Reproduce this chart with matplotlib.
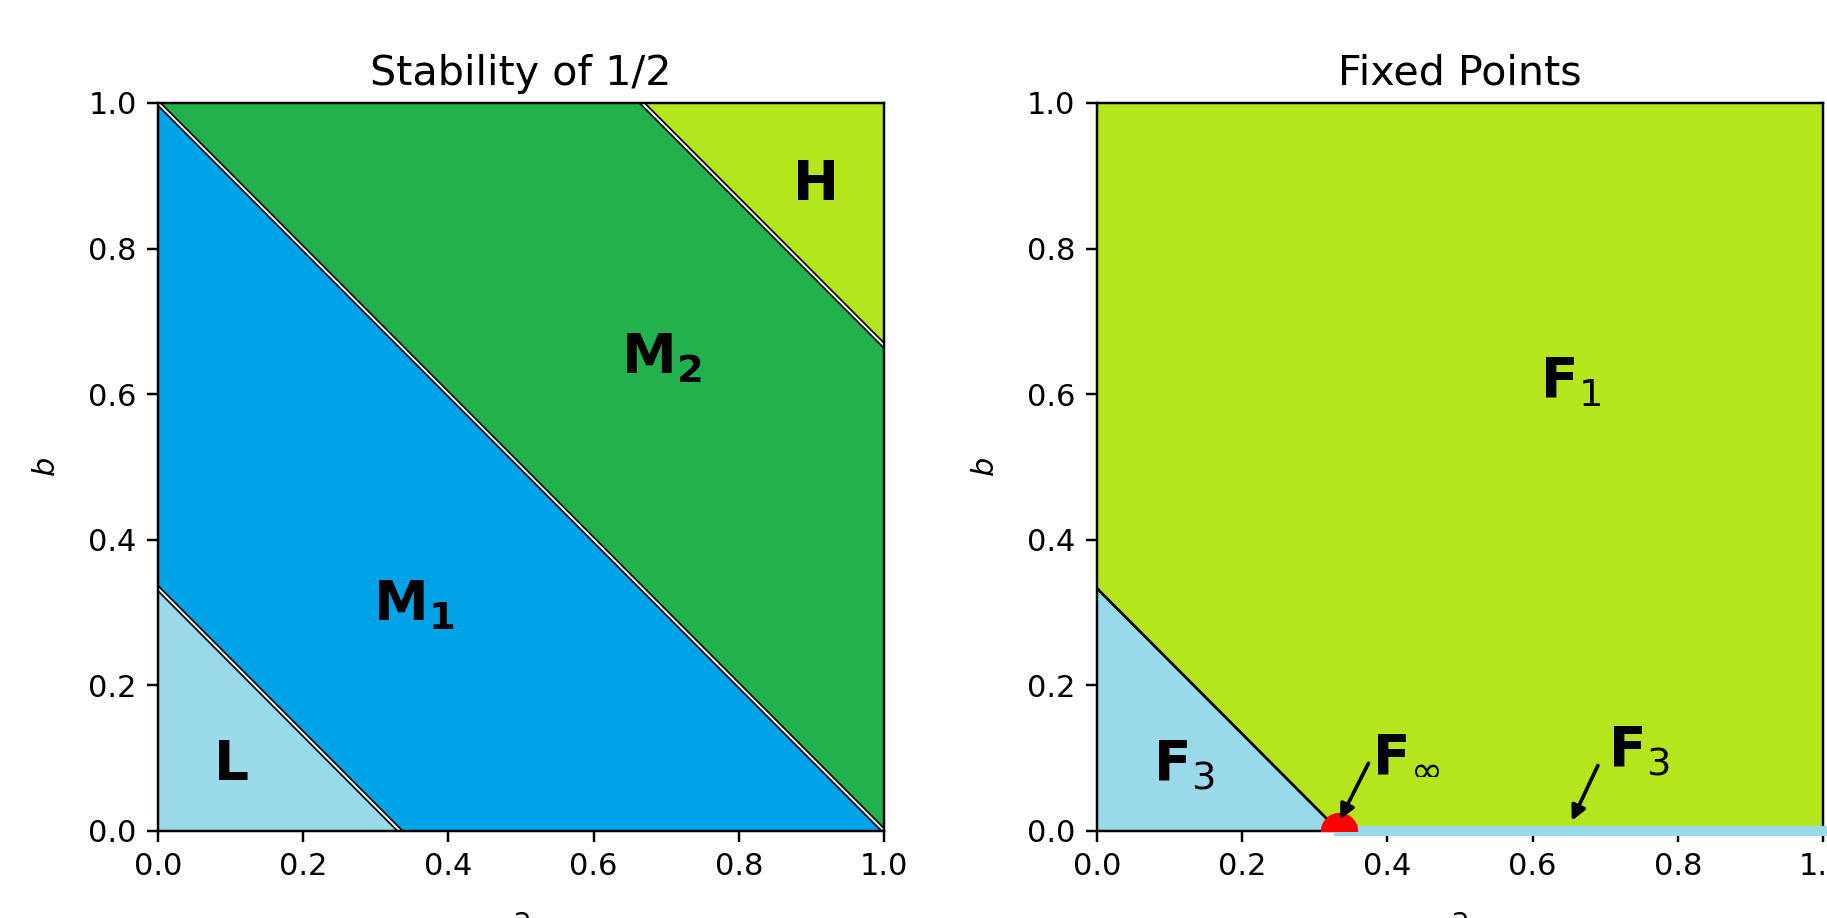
import numpy as np
import matplotlib
matplotlib.use("Agg")
import matplotlib.pyplot as plt

# region boundaries: b = c - a
stab_cuts = [1 / 3, 1.0, 5 / 3]
stab_colors = ["#99D9EA", "#00A2E8", "#22B14C", "#B5E61D"]
stab_labels = [r"$\mathbf{L}$", r"$\mathbf{M_1}$", r"$\mathbf{M_2}$", r"$\mathbf{H}$"]
stab_label_pos = [(0.076, 0.070), (0.296, 0.290), (0.638, 0.629), (0.873, 0.867)]

fp_cut = 1 / 3
fp_colors = {"F1": "#B5E61D", "F3": "#99D9EA", "Finf": "#FF0000"}
fp_label_pos = {"F1": (0.610, 0.596), "F3": (0.077, 0.069)}
finf_point = (1 / 3, 0.0)
f3_edge = (1 / 3, 1.0)          # a-range of F3 along b = 0

# annotations: label, label position, arrow start, arrow tip
ann_labels = [r"$\mathbf{F}_\infty$", r"$\mathbf{F}_3$"]
ann_text_pos = [(0.379, 0.084), (0.704, 0.088)]
ann_start = [(0.374, 0.093), (0.690, 0.090)]
ann_tip = [(0.335, 0.016), (0.654, 0.014)]

ticks = [0.0, 0.2, 0.4, 0.6, 0.8, 1.0]

DPI = 220
fig = plt.figure(figsize=(1827 / DPI, 918 / DPI), dpi=DPI)
ax1 = fig.add_axes([0.0865, 0.0948, 0.3974, 0.793])
ax2 = fig.add_axes([0.6004, 0.0948, 0.3974, 0.793])

a = np.linspace(0, 1, 401)

# --- left: stability of 1/2
lows = [np.zeros_like(a)] + [np.clip(c - a, 0, 1) for c in stab_cuts]
highs = [np.clip(c - a, 0, 1) for c in stab_cuts] + [np.ones_like(a)]
for lo, hi, col in zip(lows, highs, stab_colors):
    ax1.fill_between(a, lo, hi, where=hi > lo, color=col, lw=0, interpolate=True)
for c in stab_cuts:
    ax1.plot(a, c - a, color="#111111", lw=1.8, zorder=2)
    ax1.plot(a, c - a, color="white", lw=0.6, zorder=2.1)
for lab, (x, y) in zip(stab_labels, stab_label_pos):
    ax1.text(x, y, lab, fontsize=18, fontweight="bold", ha="left", va="baseline")
ax1.set_title("Stability of 1/2", fontsize=13.5)

# --- right: fixed points
ax2.fill_between(a, 0, 1, color=fp_colors["F1"], lw=0)
ax2.fill_between(a, 0, np.clip(fp_cut - a, 0, 1), color=fp_colors["F3"], lw=0)
ax2.plot(a, fp_cut - a, color="black", lw=0.9, zorder=2)
ax2.plot(f3_edge, [0, 0], color=fp_colors["F3"], lw=3.3, solid_capstyle="projecting",
         clip_on=False, zorder=3)
ax2.scatter([finf_point[0]], [finf_point[1]], s=150, color=fp_colors["Finf"], lw=0, zorder=4)
ax2.text(*fp_label_pos["F1"], r"$\mathbf{F}_1$", fontsize=18, ha="left", va="baseline")
ax2.text(*fp_label_pos["F3"], r"$\mathbf{F}_3$", fontsize=18, ha="left", va="baseline")
arrow = dict(arrowstyle="-|>", color="black", lw=1.2, mutation_scale=10, shrinkA=0, shrinkB=0)
for lab, tp, st, tip in zip(ann_labels, ann_text_pos, ann_start, ann_tip):
    ax2.annotate("", xy=tip, xytext=st, arrowprops=arrow, zorder=5)
    ax2.text(*tp, lab, fontsize=18, ha="left", va="baseline", zorder=5)
ax2.set_title("Fixed Points", fontsize=13.5)

for ax in (ax1, ax2):
    ax.set_xlim(0, 1); ax.set_ylim(0, 1)
    ax.set_xticks(ticks); ax.set_yticks(ticks)
    ax.tick_params(labelsize=10)
    ax.set_xlabel("a", fontsize=10, labelpad=8)
    ax.set_ylabel("$b$", fontsize=10, labelpad=9)

fig.savefig("out.png", dpi=DPI)
